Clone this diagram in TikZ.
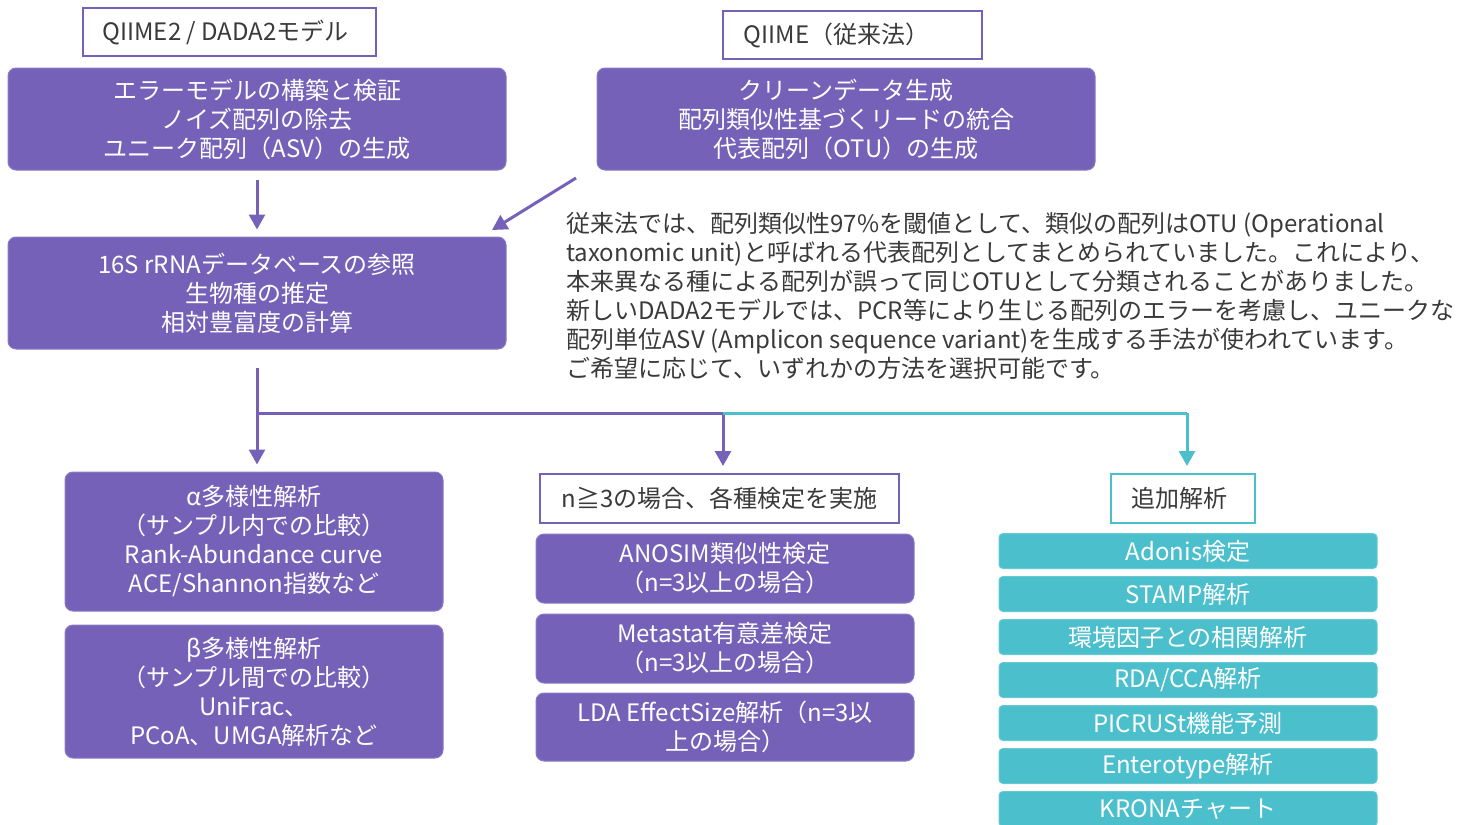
\documentclass[tikz,border=0pt]{standalone}
\usepackage{fontspec}
\setmainfont{Noto Sans CJK JP}
\usetikzlibrary{arrows.meta}
\definecolor{purp}{HTML}{7562B8}
\definecolor{tealc}{HTML}{4BBFCC}
\definecolor{txtc}{HTML}{3A3A3A}
\begin{document}
\begin{tikzpicture}[x=0.5pt,y=-0.5pt,
  font=\fontsize{12}{14.5}\selectfont,
  pbox/.style={fill=purp, draw=purp!85!white, line width=0.5pt, rounded corners=4pt, text=white, align=center, inner sep=0pt},
  tbox/.style={fill=tealc, draw=tealc!85!white, line width=0.5pt, rounded corners=2pt, text=white, align=center, inner sep=0pt, minimum width=189pt, minimum height=17.5pt},
  wbox/.style={fill=white, draw=purp, line width=1pt, text=txtc, align=center, inner sep=0pt},
  pline/.style={draw=purp, line width=1.5pt},
  tline/.style={draw=tealc, line width=1.5pt},
  tip/.style={-{Triangle[length=7.5pt,width=8pt]}, shorten >=3.5pt}]
\useasboundingbox (0,0) rectangle (1468,825);

% top headers
\node[wbox, minimum width=146.5pt, minimum height=24pt] (qd) at (229.5,32) {QIIME2 / DADA2モデル\hspace*{4pt}};
\node[wbox, minimum width=129.5pt, minimum height=24pt] (qo) at (852.5,35) {QIIME（従来法）\hspace*{16pt}};

\node[pbox, minimum width=249pt, minimum height=51pt] (b1) at (257,119) {エラーモデルの構築と検証\\ノイズ配列の除去\\ユニーク配列（ASV）の生成};
\node[pbox, minimum width=249pt, minimum height=51pt] (b2) at (846,119) {クリーンデータ生成\\配列類似性基づくリードの統合\\代表配列（OTU）の生成};
\node[pbox, minimum width=249pt, minimum height=56pt] (b3) at (257,293) {16S rRNAデータベースの参照\\生物種の推定\\相対豊富度の計算};

\node[anchor=west, align=left, inner sep=0pt, text=txtc] (txt) at (566,296) {従来法では、配列類似性97\%を閾値として、類似の配列はOTU (Operational\\taxonomic unit)と呼ばれる代表配列としてまとめられていました。これにより、\\本来異なる種による配列が誤って同じOTUとして分類されることがありました。\\新しいDADA2モデルでは、PCR等により生じる配列のエラーを考慮し、ユニークな\\配列単位ASV (Amplicon sequence variant)を生成する手法が使われています。\\ご希望に応じて、いずれかの方法を選択可能です。};

% lower left
\node[pbox, minimum width=189pt, minimum height=69.5pt] (alpha) at (254,541.5) {α多様性解析\\（サンプル内での比較）\\Rank-Abundance curve\\ACE/Shannon指数など};
\node[pbox, minimum width=189pt, minimum height=66.5pt] (beta) at (254,691.5) {β多様性解析\\（サンプル間での比較）\\UniFrac、\\PCoA、UMGA解析など};

% middle
\node[wbox, minimum width=179.5pt, minimum height=24.5pt] (nge) at (719.5,498.5) {n≧3の場合、各種検定を実施};
\node[pbox, minimum width=189pt, minimum height=34.5pt] (ano) at (725,568.5) {ANOSIM類似性検定\\（n=3以上の場合）};
\node[pbox, minimum width=189pt, minimum height=34.5pt] (meta) at (725,648.5) {Metastat有意差検定\\（n=3以上の場合）};
\node[pbox, minimum width=189pt, minimum height=34pt] (lda) at (725,727) {LDA EffectSize解析（n=3以\\上の場合）};

% right
\node[wbox, draw=tealc, minimum width=72pt, minimum height=24.5pt] (add) at (1183,498.5) {追加解析\hspace*{4pt}};
\node[tbox] (t1) at (1188,551) {Adonis検定};
\node[tbox] (t2) at (1188,594) {STAMP解析};
\node[tbox] (t3) at (1188,637) {環境因子との相関解析};
\node[tbox] (t4) at (1188,680) {RDA/CCA解析};
\node[tbox] (t5) at (1188,723) {PICRUSt機能予測};
\node[tbox] (t6) at (1188,766) {Enterotype解析};
\node[tbox] (t7) at (1188,809) {KRONAチャート};

% connectors
\coordinate (a0) at (257,180);
\draw[pline, tip] (a0) -- (a0 |- b3.north);
\coordinate (d0) at (576,178);
\coordinate (d1) at (492,230);
\draw[pline, -{Triangle[length=7.5pt,width=8pt]}] (d0) -- (d1);

\coordinate (s0) at (257,368);
\coordinate (j1) at (257,413);
\coordinate (j2) at (723,413);
\coordinate (j3) at (1187,413);
\draw[pline] (s0) -- (j1) -- (j2);
\draw[pline, tip] (j1) -- (j1 |- alpha.north);
\draw[pline, tip] (j2) -- (j2 |- nge.north);
\draw[tline] (j2) -- (j3);
\draw[tline, tip] (j3) -- (j3 |- add.north);
\end{tikzpicture}
\end{document}
